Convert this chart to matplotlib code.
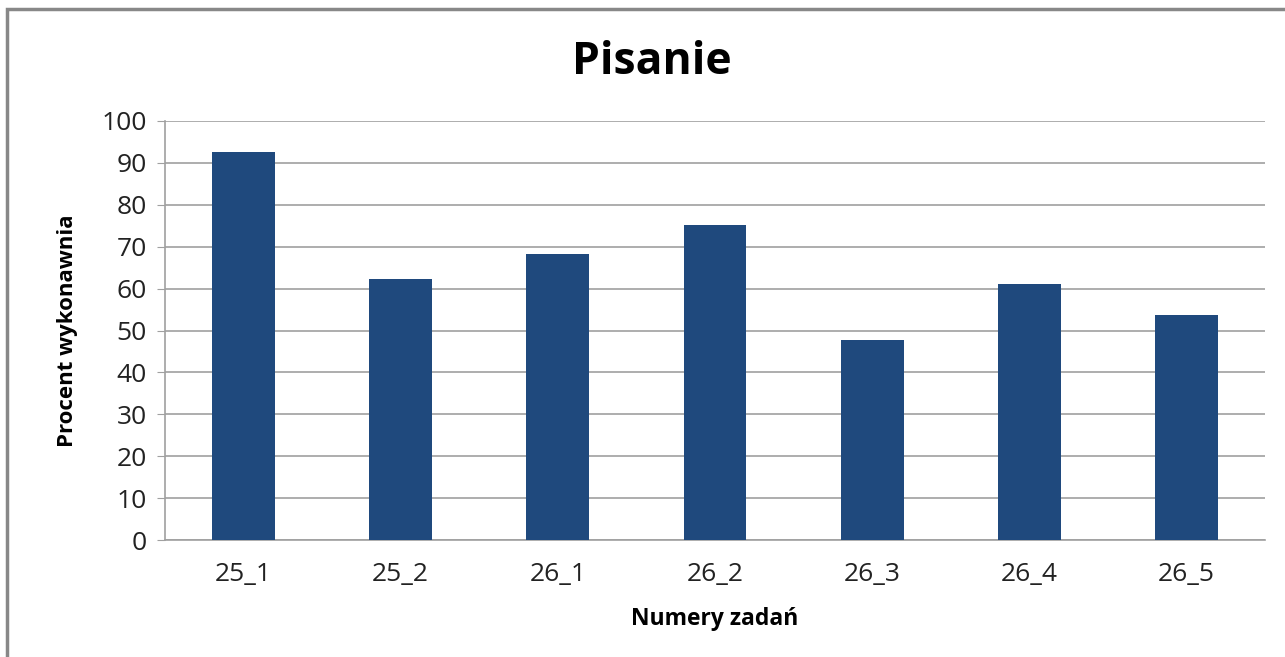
import matplotlib
matplotlib.use("Agg")
import matplotlib.pyplot as plt
from matplotlib.patches import Rectangle

# dane
categories = ["25_1", "25_2", "26_1", "26_2", "26_3", "26_4", "26_5"]
values = [92.5, 62.3, 68.2, 75.2, 47.8, 61.1, 53.8]

BAR_COLOR = "#1f497d"
GRID = "#a0a0a0"

plt.rcParams["font.family"] = ["Open Sans", "DejaVu Sans"]

fig = plt.figure(figsize=(12.85, 6.57), dpi=100)
ax = fig.add_axes([165 / 1285, 117 / 657, 1100 / 1285, 419 / 657])

x = range(len(categories))
ax.bar(x, values, width=0.4, color=BAR_COLOR, zorder=3)

ax.set_xlim(-0.5, len(categories) - 0.5)
ax.set_ylim(0, 100)
ax.set_yticks(range(0, 101, 10))
ax.set_xticks(list(x))
ax.set_xticklabels(categories)
ax.tick_params(axis="y", length=6, color=GRID, labelsize=19, pad=7,
               labelcolor="#222222")
ax.tick_params(axis="x", length=0, labelsize=19, pad=16, labelcolor="#222222")
ax.grid(axis="y", color=GRID, lw=1.2, zorder=0)

for side in ("top", "right"):
    ax.spines[side].set_visible(False)
for side in ("left", "bottom"):
    ax.spines[side].set_color(GRID)
    ax.spines[side].set_linewidth(1.2)

ax.set_xlabel("Numery zadań", fontsize=16.5, fontweight="bold", labelpad=14)
ax.set_ylabel("Procent wykonawnia", fontsize=16, fontweight="bold", labelpad=17)

fig.text(652 / 1285, 1 - 62 / 657, "Pisanie", fontsize=32, fontweight="bold",
         ha="center", va="center")

# ramka wykresu
fig.patches.append(Rectangle((7 / 1285, -0.1), 1.2, 1 - 9 / 657 + 0.1,
                             transform=fig.transFigure, fill=False,
                             edgecolor="#888888", lw=2.5))

fig.savefig("out.png", dpi=100, facecolor="white")
